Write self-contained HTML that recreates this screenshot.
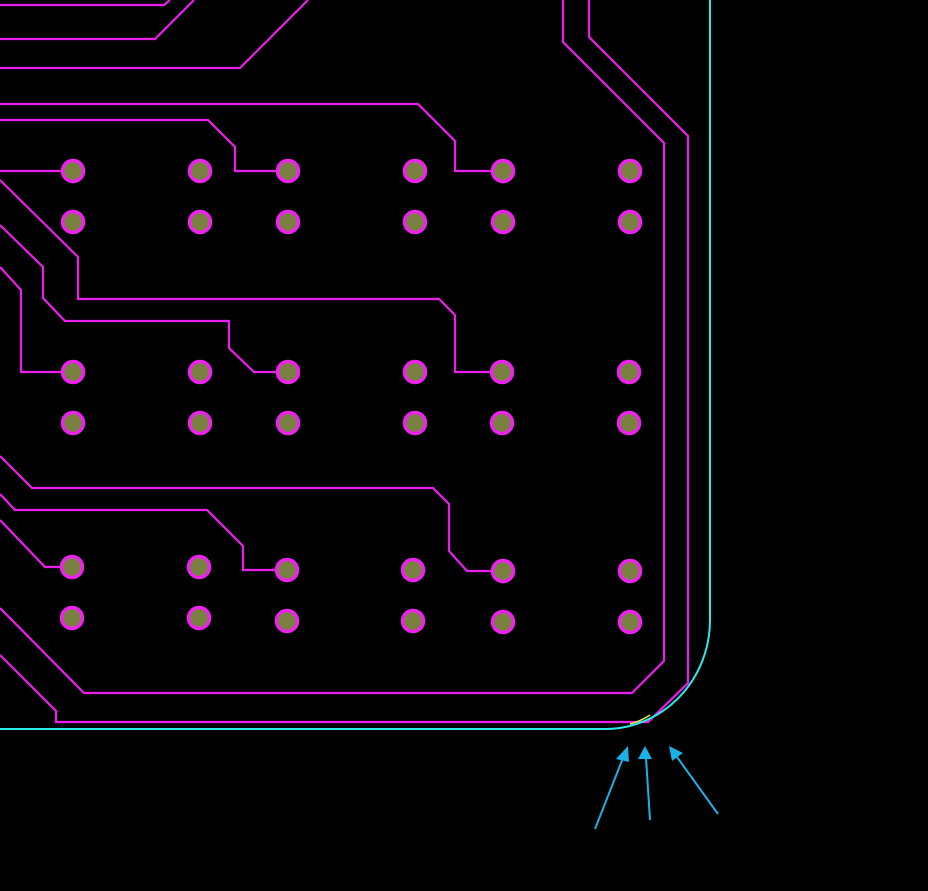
<!DOCTYPE html>
<html><head><style>html,body{margin:0;padding:0;background:#000;}svg{display:block}</style></head>
<body>
<svg width="928" height="891" viewBox="0 0 928 891" xmlns="http://www.w3.org/2000/svg">
<rect width="928" height="891" fill="#000"/>
<g fill="none" stroke="#ea1eea" stroke-width="2.2">
<polyline points="0,5 164,5 170,0"/>
<polyline points="0,39 155,39 194,0"/>
<polyline points="0,68 240,68 308,0"/>
<polyline points="0,104 418,104 455,141 455,171 503,171"/>
<polyline points="0,120 208,120 235,147 235,171 288,171"/>
<polyline points="0,171 73,171"/>
<polyline points="0,180 78,257 78,299 439,299 455,315 455,372 502,372"/>
<polyline points="0,225 43,267 43,298 65,321 229,321 229,348 254,372 288,372"/>
<polyline points="0,267 21,290 21,372 73,372"/>
<polyline points="0,456 32,488 433,488 449,504 449,551 467,571 503,571"/>
<polyline points="0,494 15,510 207,510 243,546 243,570 287,570"/>
<polyline points="0,520 45,567 72,567"/>
<polyline points="0,608 84,693 632,693 664,661 664,143 563,42 563,0"/>
<polyline points="0,655 56,711 56,722 648,722 688,683 688,136 589,37 589,0"/>
</g>
<path d="M710,0 L710,620 A105,109 0 0 1 605,729 L0,729" fill="none" stroke="#2de8e8" stroke-width="2"/>
<path d="M630,724 Q641,721 650,715" fill="none" stroke="#e8e840" stroke-width="1.5"/>
<g fill="#7a8040" stroke="#ee22ee" stroke-width="3.5">
<circle cx="73" cy="171" r="10.5"/><circle cx="200" cy="171" r="10.5"/><circle cx="288" cy="171" r="10.5"/><circle cx="415" cy="171" r="10.5"/><circle cx="503" cy="171" r="10.5"/><circle cx="630" cy="171" r="10.5"/>
<circle cx="73" cy="222" r="10.5"/><circle cx="200" cy="222" r="10.5"/><circle cx="288" cy="222" r="10.5"/><circle cx="415" cy="222" r="10.5"/><circle cx="503" cy="222" r="10.5"/><circle cx="630" cy="222" r="10.5"/>
<circle cx="73" cy="372" r="10.5"/><circle cx="200" cy="372" r="10.5"/><circle cx="288" cy="372" r="10.5"/><circle cx="415" cy="372" r="10.5"/><circle cx="502" cy="372" r="10.5"/><circle cx="629" cy="372" r="10.5"/>
<circle cx="73" cy="423" r="10.5"/><circle cx="200" cy="423" r="10.5"/><circle cx="288" cy="423" r="10.5"/><circle cx="415" cy="423" r="10.5"/><circle cx="502" cy="423" r="10.5"/><circle cx="629" cy="423" r="10.5"/>
<circle cx="72" cy="567" r="10.5"/><circle cx="199" cy="567" r="10.5"/><circle cx="287" cy="570" r="10.5"/><circle cx="413" cy="570" r="10.5"/><circle cx="503" cy="571" r="10.5"/><circle cx="630" cy="571" r="10.5"/>
<circle cx="72" cy="618" r="10.5"/><circle cx="199" cy="618" r="10.5"/><circle cx="287" cy="621" r="10.5"/><circle cx="413" cy="621" r="10.5"/><circle cx="503" cy="622" r="10.5"/><circle cx="630" cy="622" r="10.5"/>
</g>
<g stroke="#1ab0e8" stroke-width="2" fill="#1ab0e8">
<line x1="595" y1="829" x2="623" y2="758"/>
<polygon points="628,746 616,759 629,762" stroke="none"/>
<line x1="650" y1="820" x2="646" y2="758"/>
<polygon points="645,746 638,759 652,759" stroke="none"/>
<line x1="718" y1="814" x2="677" y2="757"/>
<polygon points="669,746 672,761 683,753" stroke="none"/>
</g>
</svg>
</body></html>
